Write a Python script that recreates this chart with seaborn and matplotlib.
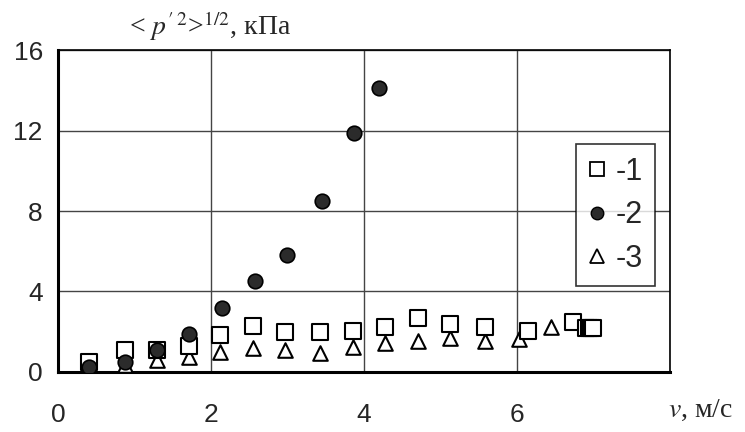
import pandas as pd
import matplotlib.pyplot as plt
import seaborn as sns
from matplotlib.lines import Line2D

# series 1 - squares
v1 = [0.41, 0.88, 1.29, 1.71, 2.12, 2.55, 2.97, 3.43, 3.86, 4.28, 4.71, 5.13, 5.58, 6.14, 6.74, 6.91, 6.94, 6.97, 7.0]
p1 = [0.5, 1.1, 1.1, 1.3, 1.85, 2.3, 2.0, 2.0, 2.05, 2.25, 2.7, 2.4, 2.25, 2.05, 2.5, 2.2, 2.2, 2.2, 2.2]
# series 2 - filled circles
v2 = [0.41, 0.88, 1.29, 1.71, 2.14, 2.57, 3.0, 3.45, 3.87, 4.2]
p2 = [0.25, 0.5, 1.1, 1.9, 3.2, 4.5, 5.8, 8.5, 11.9, 14.1]
# series 3 - triangles
v3 = [0.41, 0.88, 1.29, 1.71, 2.12, 2.55, 2.97, 3.43, 3.86, 4.28, 4.71, 5.13, 5.58, 6.03, 6.45]
p3 = [0.2, 0.35, 0.6, 0.75, 1.0, 1.2, 1.1, 0.95, 1.25, 1.45, 1.55, 1.7, 1.55, 1.65, 2.25]

yticks = [0, 4, 8, 12, 16]
xticks = [0, 2, 4, 6, 8]
xticklabels = ['0', '2', '4', '6', '']
legend_labels = ['-1', '-2', '-3']

sns.set_style('white')
plt.rcParams['font.family'] = ['Liberation Sans', 'DejaVu Sans']
plt.rcParams['mathtext.fontset'] = 'stix'

fig = plt.figure(figsize=(7.45, 4.32), dpi=100)
ax = fig.add_axes([0.078, 0.139, 0.821, 0.745])

sns.scatterplot(x=v3, y=p3, marker='^', s=110, color='white', edgecolor='black', linewidth=1.5, ax=ax, zorder=3)
sns.scatterplot(x=v1, y=p1, marker='s', s=120, color='white', edgecolor='black', linewidth=1.5, ax=ax, zorder=4)
sns.scatterplot(x=v2, y=p2, marker='o', s=110, color='#2b2b2b', edgecolor='black', linewidth=1.2, ax=ax, zorder=5)

ax.set_xlim(0, 8)
ax.set_ylim(0, 16)
ax.set_xticks(xticks)
ax.set_xticklabels(xticklabels)
ax.set_yticks(yticks)
ax.tick_params(axis='x', length=0, pad=22, labelsize=19)
ax.tick_params(axis='y', length=0, pad=11, labelsize=19)
ax.grid(True, color='#444444', lw=1)
for side in ['left', 'bottom']:
    ax.spines[side].set_linewidth(2.2)
for side in ['top', 'right']:
    ax.spines[side].set_linewidth(1.2)
for s in ax.spines.values():
    s.set_color('black')

handles = [
    Line2D([], [], ls='', marker='s', ms=10, mfc='white', mec='black', mew=1.3),
    Line2D([], [], ls='', marker='o', ms=9, mfc='#2b2b2b', mec='black', mew=1),
    Line2D([], [], ls='', marker='^', ms=10, mfc='white', mec='black', mew=1.3),
]
leg = ax.legend(handles, legend_labels, loc='upper right', bbox_to_anchor=(0.976, 0.707),
                borderaxespad=0, fontsize=22, frameon=True, fancybox=False, edgecolor='black',
                handlelength=0.6, handletextpad=0.3, labelspacing=0.45, borderpad=0.4)
leg.get_frame().set_linewidth(1.2)
leg.set_zorder(10)

fig.text(0.282, 0.94, r"< $p'^{\,2}$>$^{1/2}$, кПа", family='Liberation Serif', fontsize=20,
         ha='center', va='center')
fig.text(0.94, 0.05, r"$v$, м/с", family='Liberation Serif', fontsize=20, ha='center', va='center')

fig.savefig('out.png', dpi=100)
